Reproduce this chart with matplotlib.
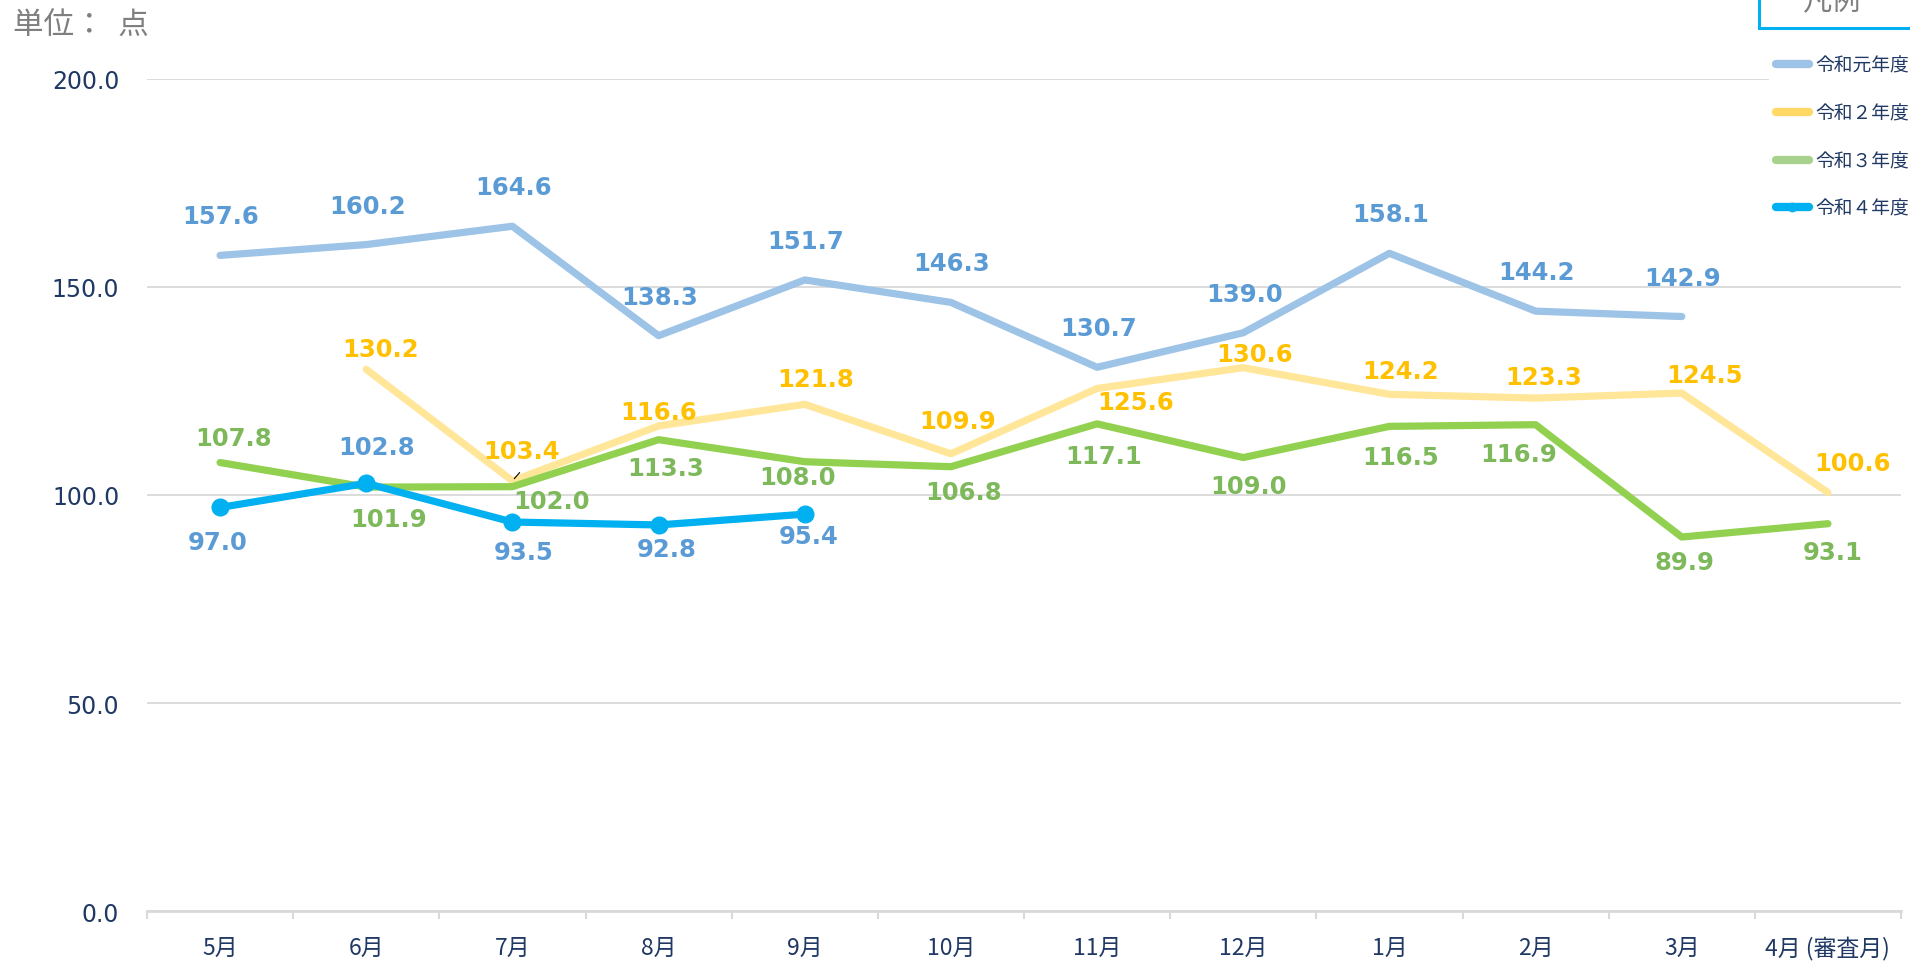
import numpy as np
import matplotlib
matplotlib.use('Agg')
from matplotlib import pyplot as plt
from matplotlib.lines import Line2D
from matplotlib.patches import Rectangle

plt.rcParams['font.family'] = ['DejaVu Sans', 'Noto Sans CJK JP']

meses = ['5月', '6月', '7月', '8月', '9月', '10月', '11月', '12月', '1月', '2月', '3月', '4月 (審査月)']
nan = np.nan
r1 = [157.6, 160.2, 164.6, 138.3, 151.7, 146.3, 130.7, 139.0, 158.1, 144.2, 142.9, nan]
r2 = [nan, 130.2, 103.4, 116.6, 121.8, 109.9, 125.6, 130.6, 124.2, 123.3, 124.5, 100.6]
r3 = [107.8, 101.9, 102.0, 113.3, 108.0, 106.8, 117.1, 109.0, 116.5, 116.9, 89.9, 93.1]
r4 = [97.0, 102.8, 93.5, 92.8, 95.4, nan, nan, nan, nan, nan, nan, nan]
nombres = ['令和元年度', '令和２年度', '令和３年度', '令和４年度']

# desplazamiento de cada etiqueta (px a la derecha, px hacia arriba)
off_r1 = [(1, 39)] * 12
off_r2 = [(0, 0), (14, 20), (9, 30), (0, 14), (11, 25), (7, 33), (39, -13),
          (11, 14), (11, 23), (8, 21), (23, 18), (25, 30)]
off_r3 = [(13, 25), (22, -32), (39, -14), (7, -28), (-7, -15), (13, -25), (7, -32),
          (5, -28), (11, -31), (-17, -29), (3, -25), (5, -28)]
off_r4 = [(-2, -35), (10, 36), (11, -30), (8, -24), (4, -22)] + [(0, 0)] * 7

W, H = 1910, 962
fig = plt.figure(figsize=(W / 100, H / 100), dpi=100)
ax = fig.add_axes([147 / W, 1 - 912 / H, (1901 - 147) / W, (912 - 80) / H])

x = np.arange(len(meses))
navy = '#1F3864'

series = [
    (r1, '#9DC3E6', '#5B9BD5', off_r1, None),
    (r2, '#FFE699', '#FFC000', off_r2, None),
    (r3, '#92D050', '#7DB95A', off_r3, None),
    (r4, '#00B0F0', '#5B9BD5', off_r4, 'o'),
]

for i, (vals, lc, tc, offs, mk) in enumerate(series):
    v = np.array(vals, dtype=float)
    ax.plot(x, v, color=lc, lw=5.2, marker=mk, markersize=12,
            solid_capstyle='round', solid_joinstyle='round', zorder=3 + i)
    for xi, yi, (dx, dy) in zip(x, v, offs):
        if np.isnan(yi):
            continue
        ax.annotate(f'{yi:.1f}', xy=(xi, yi), xytext=(dx * 0.72, dy * 0.72),
                    textcoords='offset points', ha='center', va='center',
                    fontsize=17.5, fontweight='bold', color=tc, zorder=10)

# linea guia de la etiqueta 103.4
ax.annotate('', xy=(2, 103.4), xytext=(6.5, 7.5), textcoords='offset points',
            arrowprops=dict(arrowstyle='-', color='black', lw=0.8), zorder=11)

ax.set_xlim(-0.5, len(meses) - 0.5)
ax.set_ylim(0, 200)
ax.set_yticks(np.arange(0, 201, 50))
ax.set_yticklabels([f'{t:.1f}' for t in np.arange(0, 201, 50)])
ax.tick_params(axis='y', length=0, pad=20, labelsize=17, labelcolor=navy)
ax.grid(axis='y', color='#D9D9D9', lw=1.3)
ax.set_axisbelow(True)

ax.set_xticks(x)
ax.set_xticklabels(meses, family=['Noto Sans CJK JP'], fontsize=16.5, color=navy)
ax.set_xticks(np.arange(-0.5, len(meses), 1), minor=True)
ax.tick_params(axis='x', which='major', length=0, pad=18)
ax.tick_params(axis='x', which='minor', length=6, width=1.5, color='#D9D9D9')

for s in ['top', 'right', 'left']:
    ax.spines[s].set_visible(False)
ax.spines['bottom'].set_color('#D9D9D9')
ax.spines['bottom'].set_linewidth(2)

fig.text(13 / W, 1 - 26 / H, '単位：  点', family=['Noto Sans CJK JP'], fontsize=22,
         color='#7F7F7F', ha='left', va='center')

# leyenda
handles = [
    Line2D([], [], color='#9DC3E6', lw=6, solid_capstyle='round'),
    Line2D([], [], color='#FFD966', lw=6, solid_capstyle='round'),
    Line2D([], [], color='#A9D18E', lw=6, solid_capstyle='round'),
    Line2D([], [], color='#00B0F0', lw=6, marker='o', markersize=6, solid_capstyle='round'),
]
leg = fig.legend(handles, nombres, loc='upper left', bbox_to_anchor=(1760 / W, 1 - 40 / H),
                 frameon=True, facecolor='white', edgecolor='none', fancybox=False,
                 framealpha=1, borderpad=0.35, handlelength=1.75, handletextpad=0.33,
                 labelspacing=1.42, prop={'family': 'Noto Sans CJK JP', 'size': 13.5})
for t in leg.get_texts():
    t.set_color(navy)

fig.patches.append(Rectangle((1759 / W, 1 - 29 / H), 200 / W, 60 / H, transform=fig.transFigure,
                             facecolor='white', edgecolor='#00B0F0', lw=2.2))
fig.text(1832 / W, 1 - 2 / H, '凡例', family=['Noto Sans CJK JP'], fontsize=21,
         color='#7F7F7F', ha='center', va='center')

fig.savefig('out.png', dpi=100)
